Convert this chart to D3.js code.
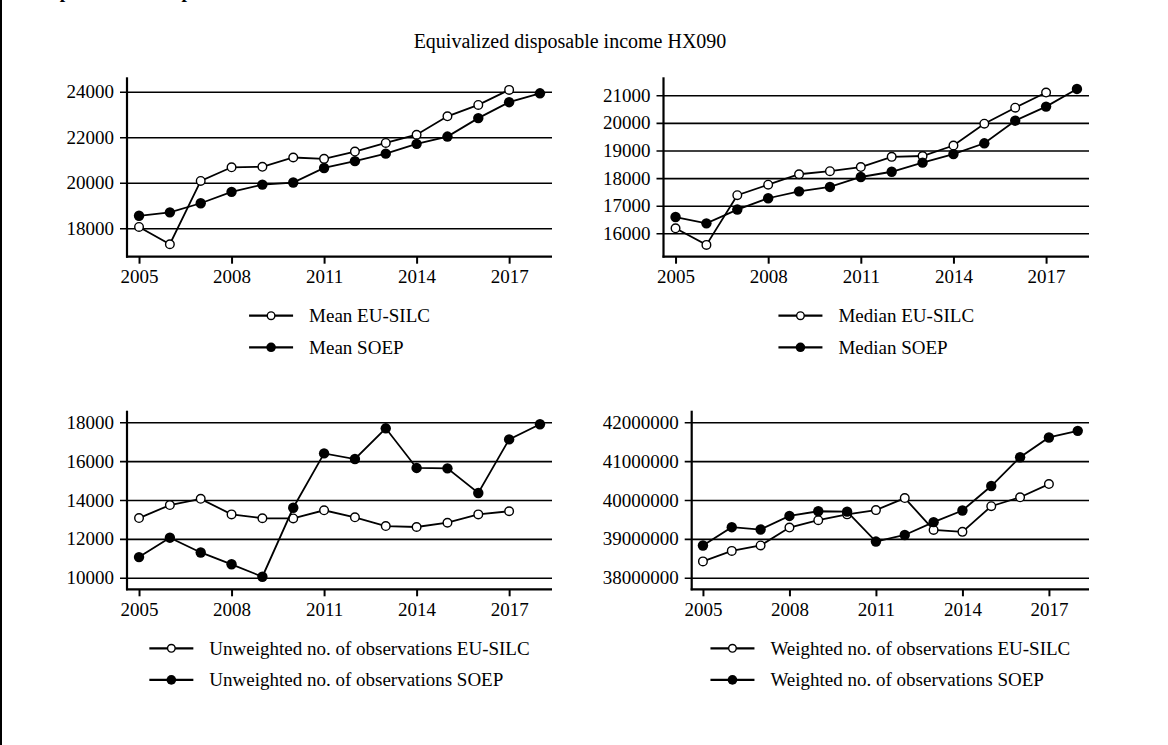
<!DOCTYPE html>
<html><head><meta charset="utf-8">
<script src="https://cdn.jsdelivr.net/npm/d3@7"></script>
<style>
body{margin:0;background:#fff}
text{font-family:"Liberation Serif","Times New Roman",serif;fill:#000}
</style>
</head><body>
<svg id="chart" width="1168" height="745"></svg>
<script>
// ---------- data ----------
const years = [2005,2006,2007,2008,2009,2010,2011,2012,2013,2014,2015,2016,2017,2018];
const yearsEU = [2005,2006,2007,2008,2009,2010,2011,2012,2013,2014,2015,2016,2017];
const xTickValues = [2005,2008,2011,2014,2017];

const meanEU   = [18060,17300,20080,20680,20700,21110,21050,21370,21750,22110,22920,23420,24080];
const meanSOEP = [18550,18700,19100,19600,19920,20010,20650,20950,21280,21710,22030,22840,23540,23930];
const meanTicks = [18000,20000,22000,24000];

const medianEU   = [16180,15580,17380,17760,18140,18250,18400,18770,18800,19180,19970,20550,21100];
const medianSOEP = [16590,16360,16860,17270,17520,17680,18040,18230,18560,18870,19260,20080,20590,21230];
const medianTicks = [16000,17000,18000,19000,20000,21000];

const unwEU   = [13070,13740,14060,13260,13060,13050,13470,13110,12660,12610,12830,13260,13420];
const unwSOEP = [11060,12060,11300,10690,10050,13600,16400,16110,17690,15650,15630,14360,17120,17900];
const unwTicks = [10000,12000,14000,16000,18000];

const wEU   = [38420000,38690000,38830000,39290000,39480000,39630000,39740000,40050000,39230000,39180000,39840000,40070000,40410000];
const wSOEP = [38830000,39300000,39240000,39590000,39710000,39700000,38930000,39100000,39430000,39730000,40360000,41100000,41610000,41780000];
const wTicks = [38000000,39000000,40000000,41000000,42000000];

const legendMean   = ["Mean EU-SILC","Mean SOEP"];
const legendMedian = ["Median EU-SILC","Median SOEP"];
const legendUnw    = ["Unweighted no. of observations EU-SILC","Unweighted no. of observations SOEP"];
const legendW      = ["Weighted no. of observations EU-SILC","Weighted no. of observations SOEP"];

const subtitle = "Equivalized disposable income HX090";
const headText = "Comparison of sample statistics";

// ---------- layout ----------
const FS = 19;
const panels = [
  {eu:meanEU, soep:meanSOEP, ticks:meanTicks, legend:legendMean,
   left:127, right:552, top:77.3, bottom:256.7, dom:[16752,24633]},
  {eu:medianEU, soep:medianSOEP, ticks:medianTicks, legend:legendMedian,
   left:663.5, right:1089, top:77.3, bottom:256.7, dom:[15152,21652]},
  {eu:unwEU, soep:unwSOEP, ticks:unwTicks, legend:legendUnw,
   left:127, right:552, top:410.7, bottom:589.3, dom:[9403,18597]},
  {eu:wEU, soep:wSOEP, ticks:wTicks, legend:legendW,
   left:691.7, right:1089, top:410.7, bottom:589.3, dom:[37701400,42298600]}
];

const svg = d3.select("#chart");
svg.append("rect").attr("x",0).attr("y",0).attr("width",1168).attr("height",745).attr("fill","#fff");
svg.append("rect").attr("x",0).attr("y",0).attr("width",2).attr("height",745).attr("fill","#000");

svg.append("text").attr("x",20).attr("y",-2).attr("font-size",19.4).attr("font-weight","bold").text(headText);

svg.append("text").attr("x",570).attr("y",48).attr("text-anchor","middle")
   .attr("font-size",20).text(subtitle);

panels.forEach(p => {
  const x = d3.scaleLinear().domain([2004.61,2018.39]).range([p.left,p.right]);
  const y = d3.scaleLinear().domain(p.dom).range([p.bottom,p.top]);
  const w = p.right - p.left;
  const g = svg.append("g");

  const ya = g.append("g").attr("transform",`translate(${p.left},0)`)
    .call(d3.axisLeft(y).tickValues(p.ticks).tickFormat(d3.format("d")).tickSizeOuter(0).tickSizeInner(7).tickPadding(6));
  ya.select(".domain").remove();
  ya.selectAll(".tick line").attr("x1",-7).attr("x2",w).attr("stroke","#000").attr("stroke-width",1.6);
  ya.selectAll(".tick text").attr("font-size",FS).attr("font-family","Liberation Serif").attr("fill","#000");

  const xa = g.append("g").attr("transform",`translate(0,${p.bottom})`)
    .call(d3.axisBottom(x).tickValues(xTickValues).tickFormat(d3.format("d")).tickSizeOuter(0).tickSizeInner(7).tickPadding(6));
  xa.select(".domain").remove();
  xa.selectAll(".tick line").attr("stroke","#000").attr("stroke-width",2);
  xa.selectAll(".tick text").attr("font-size",FS).attr("font-family","Liberation Serif").attr("fill","#000");

  g.append("line").attr("x1",p.left).attr("x2",p.left).attr("y1",p.top).attr("y2",p.bottom+1)
    .attr("stroke","#000").attr("stroke-width",2.2);
  g.append("line").attr("x1",p.left-1).attr("x2",p.right).attr("y1",p.bottom).attr("y2",p.bottom)
    .attr("stroke","#000").attr("stroke-width",2.2);

  const line = d3.line().x(d=>x(d[0])).y(d=>y(d[1]));
  const euPts = yearsEU.map((yr,i)=>[yr,p.eu[i]]);
  const soepPts = years.map((yr,i)=>[yr,p.soep[i]]);

  g.append("path").attr("d",line(euPts)).attr("fill","none").attr("stroke","#000").attr("stroke-width",1.8);
  g.selectAll(".eu").data(euPts).enter().append("circle")
    .attr("cx",d=>x(d[0])).attr("cy",d=>y(d[1])).attr("r",4.3)
    .attr("fill","#fff").attr("stroke","#000").attr("stroke-width",1.4);
  g.append("path").attr("d",line(soepPts)).attr("fill","none").attr("stroke","#000").attr("stroke-width",1.8);
  g.selectAll(".so").data(soepPts).enter().append("circle")
    .attr("cx",d=>x(d[0])).attr("cy",d=>y(d[1])).attr("r",5.2).attr("fill","#000");

  const lg = g.append("g");
  const rows = [p.bottom+59, p.bottom+90.6];
  let maxW = 0;
  p.legend.forEach((t,i)=>{
    const tx = lg.append("text").attr("x",60).attr("y",rows[i]).attr("dy","0.33em")
      .attr("font-size",FS).text(t);
    maxW = Math.max(maxW, tx.node().getComputedTextLength());
    lg.append("line").attr("x1",0).attr("x2",44).attr("y1",rows[i]).attr("y2",rows[i])
      .attr("stroke","#000").attr("stroke-width",2.3);
    if(i===0){
      lg.append("circle").attr("cx",22).attr("cy",rows[i]).attr("r",3.8).attr("fill","#fff").attr("stroke","#000").attr("stroke-width",1.4);
    } else {
      lg.append("circle").attr("cx",22).attr("cy",rows[i]).attr("r",4.8).attr("fill","#000");
    }
  });
  const total = 60 + maxW;
  lg.attr("transform",`translate(${(p.left+p.right)/2 - total/2},0)`);
});
</script>
</body></html>
